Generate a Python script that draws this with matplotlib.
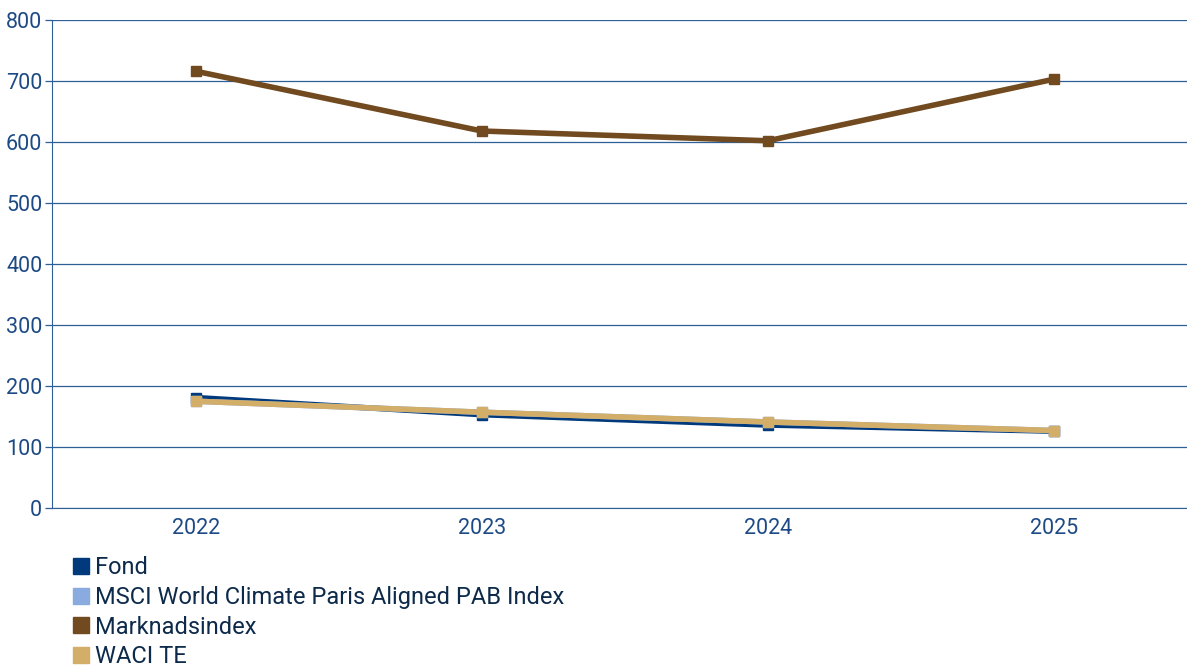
import matplotlib
matplotlib.use("Agg")
import matplotlib.pyplot as plt
from matplotlib.lines import Line2D

years = ["2022", "2023", "2024", "2025"]
fond = [181, 153, 136, 126]
msci = [175, 157, 141, 127]
marknad = [716, 618, 602, 703]
waci = [175, 157, 141, 127]
series_names = ["Fond", "MSCI World Climate Paris Aligned PAB Index", "Marknadsindex", "WACI TE"]
colors = ["#003a7d", "#8aabe0", "#714a1f", "#d2ae68"]

plt.rcParams['font.family'] = ['Roboto', 'DejaVu Sans']
fig = plt.figure(figsize=(11.87, 6.68), dpi=100)
ax = fig.add_axes([52/1187, 1-508/668, 1-52/1187, 488/668])

x = list(range(len(years)))
grid_c = "#2f5f97"
for ys, c, z in [(fond, colors[0], 3), (msci, colors[1], 4), (waci, colors[3], 5), (marknad, colors[2], 6)]:
    ax.plot(x, ys, color=c, lw=4, marker='s', markersize=7, zorder=z, solid_capstyle='butt')

ax.set_xlim(-0.503, 3.465)
ax.set_ylim(0, 800)
ax.set_yticks(range(0, 801, 100))
ax.set_xticks(x)
ax.set_xticklabels(years)
ax.yaxis.grid(True, color=grid_c, lw=0.9)
ax.set_axisbelow(True)
for s in ['top', 'right']:
    ax.spines[s].set_visible(False)
ax.spines['left'].set_color(grid_c)
ax.spines['bottom'].set_color(grid_c)
ax.tick_params(axis='y', colors=grid_c, labelcolor="#1d4a85", labelsize=15.5, length=5, width=0.9, pad=2)
ax.tick_params(axis='x', colors=grid_c, labelcolor="#1d4a85", labelsize=15.5, length=0, pad=7)

handles = [Line2D([], [], marker='s', linestyle='none', markersize=12, color=c) for c in colors]
fig.legend(handles, series_names, loc='upper left', bbox_to_anchor=(0.05, 1-547/668),
           frameon=False, fontsize=17, labelcolor="#0d2a4a", handletextpad=0.1,
           labelspacing=0.28, borderaxespad=0, handlelength=1.0)

fig.savefig("out.png", dpi=100)
